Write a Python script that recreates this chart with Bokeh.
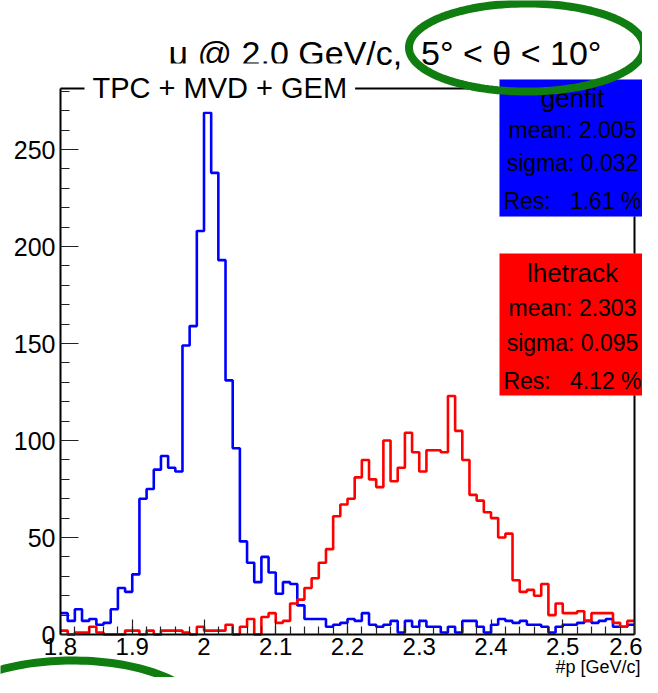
import numpy as np
from bokeh.plotting import figure
from bokeh.models import (Label, BoxAnnotation, PolyAnnotation, FixedTicker, Range1d)
from bokeh.embed import file_html
from bokeh.resources import INLINE

# ---------------- data ----------------
x_min, x_max = 1.8, 2.6
n_bins = 80
y_max = 281.5

genfit_counts = [11, 7, 13, 7, 8, 5, 6, 13, 24, 22,
                 31, 70, 75, 85, 92, 86, 84, 149, 159, 208,
                 269, 238, 193, 131, 96, 48, 37, 27, 40, 32,
                 21, 27, 26, 15, 8, 8, 8, 4, 5, 6,
                 8, 7, 11, 5, 4, 5, 7, 1, 7, 4,
                 7, 4, 4, 1, 4, 1, 7, 7, 4, 1,
                 5, 8, 7, 6, 7, 5, 5, 4, 1, 4,
                 5, 5, 6, 7, 6, 7, 8, 4, 4, 5]

lhetrack_counts = [2, 0, 1, 1, 4, 1, 0, 0, 0, 2,
                   2, 0, 2, 0, 2, 2, 2, 1, 0, 4,
                   2, 2, 2, 5, 0, 4, 8, 0, 9, 11,
                   6, 7, 16, 18, 24, 29, 37, 44, 61, 67,
                   70, 81, 90, 80, 76, 100, 79, 86, 104, 94,
                   84, 95, 95, 94, 123, 105, 90, 72, 69, 63,
                   60, 50, 52, 28, 22, 23, 20, 26, 10, 16,
                   11, 11, 12, 7, 11, 11, 11, 6, 4, 7]

x_ticks = [1.8, 1.9, 2.0, 2.1, 2.2, 2.3, 2.4, 2.5, 2.6]
x_tick_labels = ["1.8", "1.9", "2", "2.1", "2.2", "2.3", "2.4", "2.5", "2.6"]
y_ticks = [0, 50, 100, 150, 200, 250]

title_text = "μ @ 2.0 GeV/c,\u00a0 5° < θ < 10°"
subtitle_text = "TPC + MVD + GEM"
x_title = "#p [GeV/c]"
genfit_lines = ["genfit", "mean: 2.005", "sigma: 0.032", "Res:\u00a0\u00a0 1.61 %"]
lhetrack_lines = ["lhetrack", "mean: 2.303", "sigma: 0.095", "Res:\u00a0\u00a0 4.12 %"]

# ---------------- layout ----------------
W, H = 642, 677
FL, FR, FT, FB = 60, 634, 88, 634   # ROOT frame edges in canvas px
FONT = "Liberation Sans"
GREEN = "#0f7d0f"


def dx(px):
    return x_min + (px - FL) * (x_max - x_min) / (FR - FL)


def dy(py):
    return y_max * (FB - py) / (FB - FT)


p = figure(width=W, height=H, output_backend="svg", toolbar_location=None,
           x_range=Range1d(dx(0), dx(W)), y_range=Range1d(dy(H), dy(0)),
           min_border=0)
p.grid.visible = False
p.outline_line_color = None
p.background_fill_color = "white"
p.border_fill_color = "white"

edges = np.linspace(x_min, x_max, n_bins + 1)
p.step(x=edges, y=list(genfit_counts) + [genfit_counts[-1]], mode="after",
       line_color="#0000ff", line_width=2.6)
p.step(x=edges, y=list(lhetrack_counts) + [lhetrack_counts[-1]], mode="after",
       line_color="#ff0000", line_width=2.6)

# frame top / right edges
p.line(x=[x_min, x_max, x_max], y=[y_max, y_max, 0], line_color="black",
       line_width=2)

# axes drawn at the frame edges
xa = p.xaxis[0]
xa.fixed_location = 0
xa.bounds = (x_min, x_max)
xa.ticker = FixedTicker(ticks=x_ticks,
                        minor_ticks=list(np.round(np.arange(1.8, 2.6001, 0.02), 3)))
xa.major_label_overrides = dict(zip(x_ticks, x_tick_labels))
ya = p.yaxis[0]
ya.fixed_location = x_min
ya.bounds = (0, y_max)
ya.ticker = FixedTicker(ticks=y_ticks, minor_ticks=list(range(0, 290, 10)))
for ax, tin, mtin, fs, so in ((xa, 15, 8, "24px", 3), (ya, 18, 9, "25px", 5)):
    ax.axis_line_width = 2
    ax.axis_line_color = "black"
    ax.major_tick_in = tin
    ax.major_tick_out = 0
    ax.minor_tick_in = mtin
    ax.minor_tick_out = 0
    ax.major_tick_line_color = "#222222"
    ax.minor_tick_line_color = "#222222"
    ax.major_tick_line_width = 1.2
    ax.minor_tick_line_width = 1.2
    ax.major_label_text_font = FONT
    ax.major_label_text_font_size = fs
    ax.major_label_text_color = "black"
    ax.major_label_standoff = so

# texts
p.add_layout(Label(x=dx(384.5), y=dy(52), text=title_text, text_align="center",
                   text_baseline="alphabetic", text_font=FONT,
                   text_font_size="34px", text_color="black"))
p.add_layout(Label(x=dx(84), y=dy(87), text=subtitle_text, text_align="left",
                   text_baseline="alphabetic", text_font=FONT,
                   text_font_size="29px", text_color="black",
                   background_fill_color="white", padding=8))
p.add_layout(Label(x=dx(640), y=dy(676), text=x_title, text_align="right",
                   text_baseline="bottom", text_font=FONT, text_font_size="18px",
                   text_color="black"))

# stat boxes
for color, edge, top, bottom, lines, ys in (
        ("#0000ff", "#7070ff", 79, 216, genfit_lines, (97, 129, 162, 200)),
        ("#ff0000", "#ff8080", 253, 395, lhetrack_lines, (272, 307, 342, 380))):
    p.add_layout(BoxAnnotation(left=dx(499), right=dx(649), top=dy(top),
                               bottom=dy(bottom), fill_color=color, fill_alpha=1,
                               line_color=edge, line_width=1, level="annotation"))
    for i, (t, yy) in enumerate(zip(lines, ys)):
        p.add_layout(Label(x=dx(572), y=dy(yy), text=t, text_align="center",
                           text_baseline="middle", text_font=FONT,
                           text_font_size="26px" if i == 0 else "23px",
                           text_color="black"))

# green hand-drawn ellipses
theta = np.linspace(0, 2 * np.pi, 160)
for cx, cy, a, b in ((526, 47, 117.5, 44), (72, 715, 130, 55)):
    p.add_layout(PolyAnnotation(xs=[dx(cx + a * np.cos(t)) for t in theta],
                                ys=[dy(cy + b * np.sin(t)) for t in theta],
                                fill_color=None, fill_alpha=0,
                                line_color=GREEN, line_alpha=1, line_width=8,
                                level="overlay"))

open("out.html", "w").write(file_html(p, INLINE))
